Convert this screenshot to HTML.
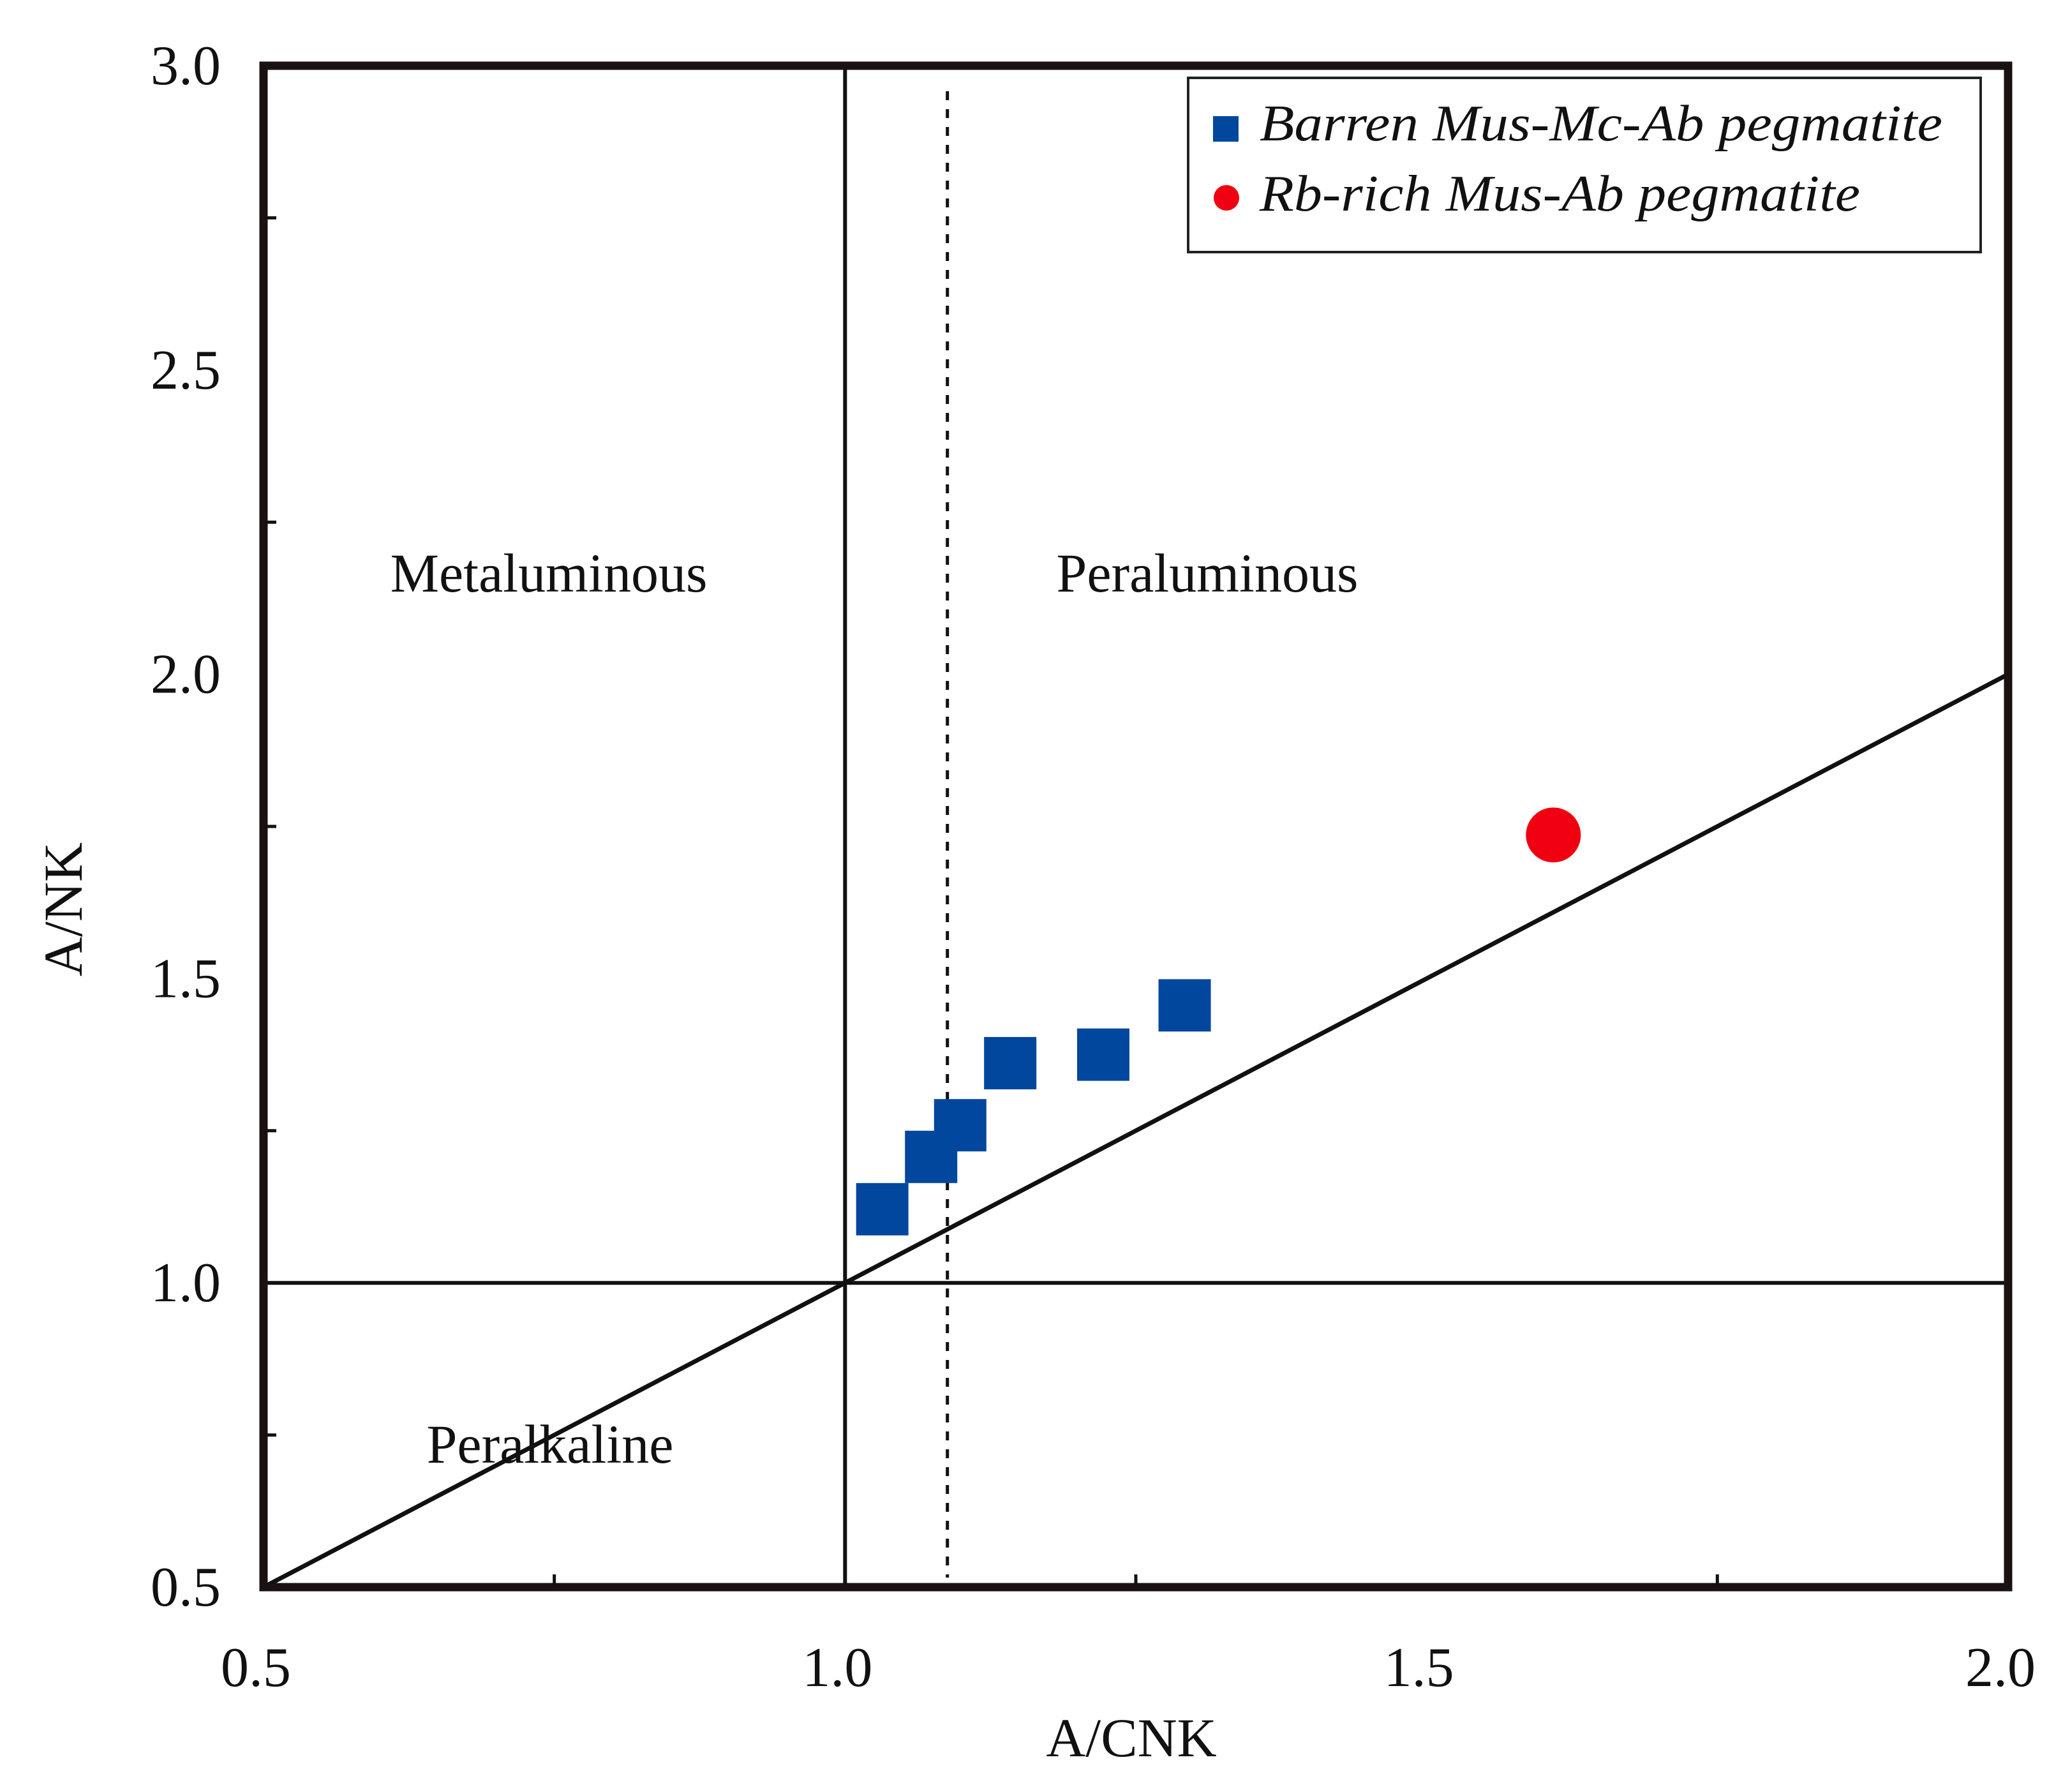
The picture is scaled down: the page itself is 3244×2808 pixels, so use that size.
<!DOCTYPE html>
<html><head><meta charset="utf-8"><style>html,body{margin:0;padding:0;background:#fff}svg{display:block}</style></head>
<body>
<svg id="chart" width="3244" height="2808" viewBox="0 0 3244 2808" font-family="'Liberation Serif', serif">
<rect width="3244" height="2808" fill="#fff"/>
<g id="plot"></g>
</svg>
<script>
const barrenX = [1.032, 1.074, 1.099, 1.142, 1.222, 1.292];
const barrenY = [1.121, 1.207, 1.259, 1.361, 1.375, 1.456];
const rbX = [1.609];
const rbY = [1.736];
const xTicks = [0.5, 1.0, 1.5, 2.0];
const xTickLabels = ["0.5", "1.0", "1.5", "2.0"];
const yTicks = [0.5, 1.0, 1.5, 2.0, 2.5, 3.0];
const yTickLabels = ["0.5", "1.0", "1.5", "2.0", "2.5", "3.0"];
const xMinor = [0.75, 1.25, 1.75];
const yMinor = [0.75, 1.25, 1.75, 2.25, 2.75];
const dashedX = 1.088;

const L=413,R=3147,T=103,B=2487;
const sx=v=>L+(v-0.5)/1.5*(R-L);
const sy=v=>B-(v-0.5)/2.5*(B-T);
const NS="http://www.w3.org/2000/svg";
const g=document.getElementById('plot');
function mk(tag,attrs,text){const e=document.createElementNS(NS,tag);for(const k in attrs)e.setAttribute(k,attrs[k]);if(text!==undefined)e.textContent=text;g.appendChild(e);return e;}

let e;
e=mk('line',{x1:sx(1),y1:T,x2:sx(1),y2:B,stroke:'#111','stroke-width':6});


e=mk('line',{x1:L,y1:sy(1),x2:R,y2:sy(1),stroke:'#111','stroke-width':6});


e=mk('line',{x1:sx(0.5),y1:sy(0.5),x2:sx(2),y2:sy(2),stroke:'#111','stroke-width':7});


e=mk('line',{x1:sx(dashedX),y1:T+40,x2:sx(dashedX),y2:B-15,stroke:'#111','stroke-width':5,'stroke-dasharray':'14 14'});



e=mk('rect',{x:L,y:T,width:R-L,height:B-T,fill:'none',stroke:'#1a1212','stroke-width':13});



xMinor.forEach(v=>{e=mk('line',{x1:sx(v),y1:B,x2:sx(v),y2:B-20,stroke:'#111','stroke-width':5});

});
yMinor.forEach(v=>{e=mk('line',{x1:L,y1:sy(v),x2:L+20,y2:sy(v),stroke:'#111','stroke-width':5});

});

xTicks.forEach((v,i)=>{e=mk('text',{x:sx(v)-12,y:2642,'text-anchor':'middle','font-size':88,fill:'#111'},xTickLabels[i]);

});
yTicks.forEach((v,i)=>{e=mk('text',{x:346,y:sy(v)+29,'text-anchor':'end','font-size':88,fill:'#111'},yTickLabels[i]);

});

e=mk('text',{x:1773,y:2752,'text-anchor':'middle','font-size':86,fill:'#111'},'A/CNK');


e=mk('text',{x:0,y:0,'text-anchor':'middle','font-size':86,fill:'#111',transform:'translate(128,1425) rotate(-90)'},'A/NK');



e=mk('text',{x:860,y:927,'text-anchor':'middle','font-size':86,fill:'#111'},'Metaluminous');


e=mk('text',{x:1892,y:927,'text-anchor':'middle','font-size':86,fill:'#111'},'Peraluminous');


e=mk('text',{x:862,y:2292,'text-anchor':'middle','font-size':86,fill:'#111'},'Peralkaline');



const S=82;
barrenX.forEach((v,i)=>{e=mk('rect',{x:sx(v)-S/2,y:sy(barrenY[i])-S/2,width:S,height:S,fill:'#00479d'});

});
rbX.forEach((v,i)=>{e=mk('circle',{cx:sx(v),cy:sy(rbY[i]),r:43,fill:'#f00010'});

});

e=mk('rect',{x:1862,y:122,width:1242,height:273,fill:'#fff',stroke:'#222','stroke-width':4});


e=mk('rect',{x:1901,y:182,width:40,height:40,fill:'#00479d'});


e=mk('text',{x:1974,y:220,'font-size':80,'font-style':'italic',fill:'#111',textLength:1070,lengthAdjust:'spacingAndGlyphs'},'Barren Mus-Mc-Ab pegmatite');


e=mk('circle',{cx:1922,cy:310,r:20,fill:'#f00010'});


e=mk('text',{x:1974,y:330,'font-size':80,'font-style':'italic',fill:'#111',textLength:941,lengthAdjust:'spacingAndGlyphs'},'Rb-rich Mus-Ab pegmatite');


</script>
</body></html>
